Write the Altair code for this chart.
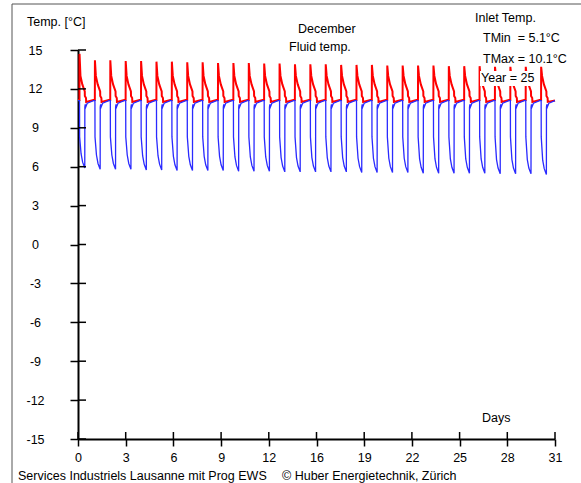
import altair as alt
import pandas as pd

# ---------------- data ----------------
days = list(range(31))
# daily peak of the red curve (deg C)
red_peak = [14.7, 14.2, 14.2, 14.15, 14.15, 14.1, 14.1, 14.05, 14.05, 14.0,
            14.0, 14.0, 13.95, 13.95, 13.9, 13.9, 13.9, 13.85, 13.85, 13.85,
            13.8, 13.8, 13.8, 13.8, 13.75, 13.75, 13.75, 13.7, 13.7, 13.7, 13.7]
# daily minimum of the blue curve (deg C)
blue_min = [5.9, 5.8, 5.8, 5.8, 5.75, 5.75, 5.7, 5.7, 5.7, 5.7,
            5.65, 5.65, 5.65, 5.6, 5.6, 5.6, 5.6, 5.6, 5.55, 5.55,
            5.55, 5.55, 5.5, 5.5, 5.5, 5.5, 5.5, 5.45, 5.45, 5.45, 5.4]
# shape of one day (fraction of day, value); None = daily extreme, ("m", d) = extreme + d
blue_frac = [0.0, 0.10, 0.105, 0.20, 0.30, 0.44, 0.445, 0.47, 0.50, 0.60]
blue_vals = [11.1, 11.1, 8.3, ("m", 1.1), ("m", 0.45), None, 10.6, 10.8, 10.6, 10.9]
red_frac = [0.0, 0.095, 0.10, 0.16, 0.28, 0.44, 0.445, 0.52, 0.53]
red_vals = [11.15, 11.15, None, 13.0, 12.35, 11.8, 11.45, 11.3, 11.0]
end_blue = 11.1
end_red = 11.1

x_ticks = [0, 3.1, 6.2, 9.3, 12.4, 15.5, 18.6, 21.7, 24.8, 27.9, 31]
y_ticks = [-15, -12, -9, -6, -3, 0, 3, 6, 9, 12, 15]

# ---------------- build tables ----------------
def build(frac, vals, extreme, end_val):
    rows = []
    for d in days:
        for f, v in zip(frac, vals):
            if v is None:
                val = extreme[d]
            elif isinstance(v, tuple):
                val = extreme[d] + v[1]
            else:
                val = v
            rows.append({"day": d + f, "temp": val})
    rows.append({"day": 31, "temp": end_val})
    df = pd.DataFrame(rows)
    df["i"] = range(len(df))
    return df

blue_df = build(blue_frac, blue_vals, blue_min, end_blue)
red_df = build(red_frac, red_vals, red_peak, end_red)

W, H = 477, 389
FONT = "Liberation Sans"
FS = 12.5

xscale = alt.Scale(domain=[0, 31], nice=False, zero=False)
yscale = alt.Scale(domain=[-15, 15], nice=False, zero=False)
xaxis = alt.Axis(values=x_ticks, labelExpr="round(datum.value)", title=None,
                 grid=False, domainColor="black", domainWidth=2, tickColor="black",
                 tickWidth=1.5, tickSize=7, labelPadding=5, labelFontSize=FS,
                 labelFont=FONT, labelColor="black", labelFlush=False)
yaxis = alt.Axis(values=y_ticks, title=None, grid=False, domainColor="black",
                 domainWidth=2, tickColor="black", tickWidth=1.5, tickSize=8,
                 labelPadding=35, labelAlign="center", labelFontSize=FS,
                 labelExpr="(datum.value < 0 ? '-' : '') + abs(datum.value)",
                 labelFont=FONT, labelColor="black")

red = alt.Chart(red_df).mark_line(color="#ff0000", strokeWidth=2).encode(
    x=alt.X("day:Q", scale=xscale, axis=xaxis),
    y=alt.Y("temp:Q", scale=yscale, axis=yaxis),
    order="i:Q",
)
blue = alt.Chart(blue_df).mark_line(color="#2a2aff", strokeWidth=1.3).encode(
    x=alt.X("day:Q", scale=xscale, axis=xaxis),
    y=alt.Y("temp:Q", scale=yscale, axis=yaxis),
    order="i:Q",
)

ytick_df = pd.DataFrame({"temp": y_ticks})
xtick_df = pd.DataFrame({"day": x_ticks})
ytick_in = alt.Chart(ytick_df).mark_rule(color="black", strokeWidth=1.5).encode(
    y=alt.Y("temp:Q", scale=yscale, axis=yaxis),
    x=alt.value(0), x2=alt.value(8),
)
xtick_in = alt.Chart(xtick_df).mark_rule(color="black", strokeWidth=1.5).encode(
    x=alt.X("day:Q", scale=xscale, axis=xaxis),
    y=alt.value(H - 7), y2=alt.value(H),
)

# frame lines of the window
frame_top = alt.Chart(pd.DataFrame({"a": [0]})).mark_rule(color="#555555", strokeWidth=1).encode(
    x=alt.value(-66), x2=alt.value(503), y=alt.value(-46))
frame_left = alt.Chart(pd.DataFrame({"a": [0]})).mark_rule(color="#555555", strokeWidth=1).encode(
    x=alt.value(-66), y=alt.value(-46), y2=alt.value(433))

# white box behind "Year = 25"
box = alt.Chart(pd.DataFrame({"a": [0]})).mark_rect(color="white").encode(
    x=alt.value(402), x2=alt.value(459), y=alt.value(21), y2=alt.value(36))

texts = [
    ("Temp. [°C]", -51, -28),
    ("December", 220, -21),
    ("Fluid temp.", 211, -3),
    ("Inlet Temp.", 397, -32),
    ("TMin\u00a0 = 5.1°C", 405, -12),
    ("TMax = 10.1°C", 405, 9),
    ("Year = 25", 403, 28),
    ("Days", 404, 368),
    ("Services Industriels Lausanne mit Prog EWS", -60, 426),
    ("© Huber Energietechnik, Zürich", 204, 426),
]
text_layers = [
    alt.Chart(pd.DataFrame({"t": [t]})).mark_text(
        align="left", baseline="middle", fontSize=FS, font=FONT, color="black"
    ).encode(text="t:N", x=alt.value(x), y=alt.value(y))
    for t, x, y in texts
]

chart = alt.layer(
    frame_top, frame_left, red, blue, box, ytick_in, xtick_in, *text_layers
).properties(
    width=W, height=H, padding={"left": 78, "top": 50, "right": 26, "bottom": 44},
    autosize=alt.AutoSizeParams(type="none"), background="white",
).configure_view(stroke=None)

chart.save("out.html", embed_options={"renderer": "svg", "actions": False})
